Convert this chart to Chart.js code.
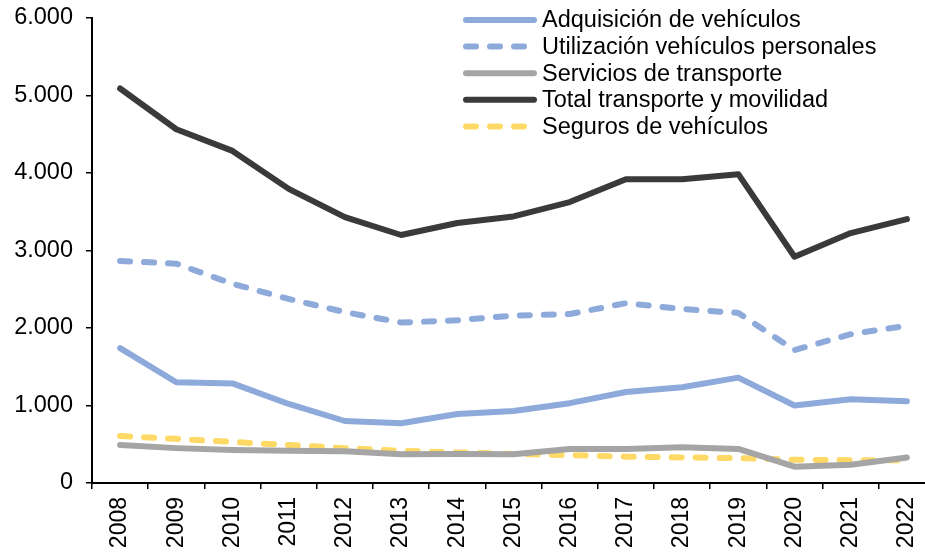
<!DOCTYPE html>
<html>
<head>
<meta charset="utf-8">
<script src="https://cdn.jsdelivr.net/npm/chart.js@4"></script>
<style>
  html, body { margin: 0; padding: 0; background: #fff; overflow: hidden; }
  #wrap { position: relative; width: 945px; height: 552px; }
</style>
</head>
<body>
<div id="wrap"><canvas id="transportChart"></canvas></div>
<script>
// Gasto en transporte y movilidad, 2008-2022
const years = ["2008", "2009", "2010", "2011", "2012", "2013", "2014", "2015",
               "2016", "2017", "2018", "2019", "2020", "2021", "2022"];

const adquisicion = [1740, 1300, 1285, 1020, 800, 770, 890, 930, 1030, 1175, 1235, 1360, 1000, 1080, 1055];
const utilizacion = [2865, 2830, 2570, 2375, 2205, 2070, 2100, 2160, 2180, 2320, 2245, 2195, 1715, 1920, 2030];
const servicios   = [490, 450, 425, 415, 410, 370, 375, 370, 440, 440, 460, 440, 210, 235, 330];
const total       = [5090, 4565, 4285, 3795, 3430, 3200, 3355, 3440, 3625, 3920, 3920, 3985, 2920, 3225, 3405];
const seguros     = [605, 570, 530, 490, 450, 415, 395, 375, 360, 340, 330, 320, 300, 295, 295];

const yTicks = [0, 1000, 2000, 3000, 4000, 5000, 6000];

const FONT = "'Liberation Sans', Arial, sans-serif";

// miles con punto: 6000 -> "6.000"
function fmtMiles(v) {
    return String(v).replace(/\B(?=(\d{3})+(?!\d))/g, ".");
}

// leyenda dentro del área del gráfico, arriba a la derecha
const insideLegend = {
    id: "insideLegend",
    afterDatasetsDraw(chart) {
        const ctx = chart.ctx;
        const x0 = 466, x1 = 534, textX = 542;
        let y = 20;
        ctx.save();
        ctx.font = "23.5px " + FONT;
        ctx.textBaseline = "middle";
        ctx.fillStyle = "#000";
        chart.data.datasets.forEach((ds) => {
            ctx.beginPath();
            ctx.strokeStyle = ds.borderColor;
            ctx.lineWidth = ds.borderWidth;
            ctx.lineCap = "round";
            ctx.setLineDash(ds.borderDash || []);
            ctx.moveTo(x0, y);
            ctx.lineTo(x1, y);
            ctx.stroke();
            ctx.setLineDash([]);
            ctx.fillText(ds.label, textX, y + 1);
            y += 26.6;
        });
        ctx.restore();
    },
};

const ctx = document.getElementById("transportChart").getContext("2d");
const transportChart = new Chart(ctx, {
    type: "line",
    data: {
        labels: years,
        datasets: [
            {
                label: "Adquisición de vehículos",
                data: adquisicion,
                borderColor: "#8eaadb",
                borderWidth: 6,
            },
            {
                label: "Utilización vehículos personales",
                data: utilizacion,
                borderColor: "#8eaadb",
                borderWidth: 6,
                borderDash: [10, 14],
            },
            {
                label: "Servicios de transporte",
                data: servicios,
                borderColor: "#a5a5a5",
                borderWidth: 6,
            },
            {
                label: "Total transporte y movilidad",
                data: total,
                borderColor: "#3a3a3a",
                borderWidth: 6,
            },
            {
                label: "Seguros de vehículos",
                data: seguros,
                borderColor: "#ffd966",
                borderWidth: 6,
                borderDash: [10, 14],
            },
        ],
    },
    options: {
        responsive: true,
        maintainAspectRatio: false,
        animation: false,
        layout: {
            padding: { top: 18, right: 10, left: 0, bottom: 0 },
        },
        elements: {
            point: { radius: 0 },
            line: {
                tension: 0,
                borderCapStyle: "round",
                borderJoinStyle: "round",
                fill: false,
            },
        },
        plugins: {
            legend: { display: false },
            tooltip: { enabled: false },
        },
        scales: {
            x: {
                offset: true,
                grid: {
                    offset: true,
                    drawOnChartArea: false,
                    drawTicks: true,
                    tickLength: 6,
                    color: "#000",
                    lineWidth: 1.5,
                },
                border: { color: "#000", width: 2 },
                ticks: {
                    color: "#000",
                    font: { family: FONT, size: 23 },
                    minRotation: 90,
                    maxRotation: 90,
                    padding: 8,
                    autoSkip: false,
                },
                afterFit(scale) {
                    scale.height = 69;
                    scale.paddingLeft = 0;
                    scale.paddingRight = 0;
                },
            },
            y: {
                min: 0,
                max: 6000,
                afterBuildTicks(scale) {
                    scale.ticks = yTicks.map((v) => ({ value: v }));
                },
                grid: {
                    drawOnChartArea: false,
                    drawTicks: true,
                    tickLength: 6,
                    color: "#000",
                    lineWidth: 1.5,
                },
                border: { color: "#000", width: 2 },
                ticks: {
                    color: "#000",
                    font: { family: FONT, size: 23.5 },
                    padding: 13,
                    callback: (v) => fmtMiles(v),
                },
                afterFit(scale) {
                    scale.width = 92;
                    scale.paddingTop = 0;
                    scale.paddingBottom = 0;
                },
            },
        },
    },
    plugins: [insideLegend],
});
</script>
</body>
</html>
